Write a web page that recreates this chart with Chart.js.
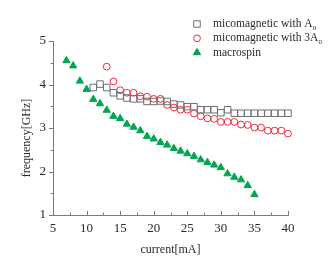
<!DOCTYPE html>
<html>
<head>
<meta charset="utf-8">
<script src="https://cdn.jsdelivr.net/npm/chart.js@4/dist/chart.umd.min.js"></script>
<style>
  html, body { margin: 0; padding: 0; background: #fff; }
  canvas { display: block; }
</style>
</head>
<body>
<canvas id="freqChart" width="332" height="278"></canvas>
<script>
// current [mA] and frequency [GHz]
const currentA0 = [11, 12, 13, 14, 15, 16, 17, 18, 19, 20, 21, 22, 23, 24, 25, 26, 27, 28, 29, 30, 31, 32, 33, 34, 35, 36, 37, 38, 39, 40];
const freqA0 = [3.93, 4.01, 3.93, 3.81, 3.74, 3.69, 3.67, 3.67, 3.61, 3.61, 3.62, 3.61, 3.55, 3.53, 3.49, 3.49, 3.42, 3.42, 3.42, 3.35, 3.42, 3.34, 3.34, 3.34, 3.34, 3.34, 3.34, 3.34, 3.34, 3.34];

const current3A0 = [13, 14, 15, 16, 17, 18, 19, 20, 21, 22, 23, 24, 25, 26, 27, 28, 29, 30, 31, 32, 33, 34, 35, 36, 37, 38, 39, 40];
const freq3A0 = [4.41, 4.07, 3.87, 3.81, 3.81, 3.73, 3.72, 3.67, 3.67, 3.53, 3.47, 3.42, 3.42, 3.33, 3.27, 3.22, 3.21, 3.14, 3.14, 3.14, 3.08, 3.07, 3.01, 3.01, 2.94, 2.94, 2.94, 2.87];

const currentMacro = [7, 8, 9, 10, 11, 12, 13, 14, 15, 16, 17, 18, 19, 20, 21, 22, 23, 24, 25, 26, 27, 28, 29, 30, 31, 32, 33, 34, 35];
const freqMacro = [4.55, 4.43, 4.08, 3.89, 3.66, 3.56, 3.41, 3.27, 3.22, 3.09, 3.02, 2.94, 2.81, 2.75, 2.67, 2.61, 2.53, 2.47, 2.41, 2.35, 2.27, 2.21, 2.15, 2.09, 1.95, 1.87, 1.81, 1.68, 1.47];

const xTicks = [5, 10, 15, 20, 25, 30, 35, 40];
const yTicks = [1, 2, 3, 4, 5];

const serif = '"Liberation Serif", "Times New Roman", serif';
const axisColor = '#7a7a7a';
const textColor = '#2a2a2a';

function toPoints(xs, ys) {
  return xs.map((x, i) => ({ x: x, y: ys[i] }));
}

// ticks (x inward, y outward), axis titles and the legend with subscripts
const decorPlugin = {
  id: 'decor',
  afterDraw(chart) {
    const { ctx, chartArea: area, scales: { x, y } } = chart;
    ctx.save();
    ctx.strokeStyle = axisColor;
    ctx.lineWidth = 1;
    ctx.beginPath();
    for (let v = x.min; v <= x.max; v += 2.5) {
      const px = Math.round(x.getPixelForValue(v)) + 0.5;
      const len = v % 5 === 0 ? 4 : 2.5;
      ctx.moveTo(px, area.bottom);
      ctx.lineTo(px, area.bottom - len);
    }
    for (let v = y.min; v <= y.max; v += 0.5) {
      const py = Math.round(y.getPixelForValue(v)) + 0.5;
      const len = v % 1 === 0 ? 4 : 2.5;
      ctx.moveTo(area.left, py);
      ctx.lineTo(area.left - len, py);
    }
    ctx.stroke();

    ctx.fillStyle = textColor;
    ctx.font = '12px ' + serif;
    ctx.textAlign = 'center';
    ctx.textBaseline = 'middle';
    ctx.fillText('current[mA]', (area.left + area.right) / 2, 250);
    ctx.save();
    ctx.translate(27, 138);
    ctx.rotate(-Math.PI / 2);
    ctx.fillText('frequency[GHz]', 0, 0);
    ctx.restore();

    // legend
    const items = [
      { ds: 0, text: 'micomagnetic with A', sub: '0' },
      { ds: 1, text: 'micomagnetic with 3A', sub: '0' },
      { ds: 2, text: 'macrospin', sub: '' }
    ];
    const lx = 197, tx = 213, ly0 = 24, step = 14.3;
    items.forEach((it, i) => {
      const ds = chart.data.datasets[it.ds];
      const ly = ly0 + i * step;
      ctx.strokeStyle = ds.pointBorderColor;
      ctx.fillStyle = ds.pointBackgroundColor;
      ctx.lineWidth = 1;
      Chart.helpers.drawPoint(ctx, { pointStyle: ds.pointStyle, radius: ds.pointRadius, borderWidth: 1 }, lx, ly);
      if (ds.pointStyle === 'triangle') ctx.fill();
      ctx.fillStyle = textColor;
      ctx.font = '11.5px ' + serif;
      ctx.textAlign = 'left';
      ctx.textBaseline = 'middle';
      ctx.fillText(it.text, tx, ly);
      if (it.sub) {
        const w = ctx.measureText(it.text).width;
        ctx.font = '7px ' + serif;
        ctx.fillText(it.sub, tx + w, ly + 4);
      }
    });
    ctx.restore();
  }
};

new Chart(document.getElementById('freqChart').getContext('2d'), {
  type: 'scatter',
  data: {
    datasets: [
      {
        label: 'micomagnetic with A0',
        data: toPoints(currentA0, freqA0),
        clip: false,
        pointStyle: 'rect',
        pointRadius: 4.6,
        pointBorderWidth: 1,
        pointBorderColor: '#6e6e6e',
        pointBackgroundColor: 'rgba(255,255,255,0)'
      },
      {
        label: 'micomagnetic with 3A0',
        data: toPoints(current3A0, freq3A0),
        clip: false,
        pointStyle: 'circle',
        pointRadius: 3.4,
        pointBorderWidth: 1,
        pointBorderColor: '#f0283a',
        pointBackgroundColor: 'rgba(255,255,255,0)'
      },
      {
        label: 'macrospin',
        data: toPoints(currentMacro, freqMacro),
        clip: false,
        pointStyle: 'triangle',
        pointRadius: 4.2,
        pointBorderWidth: 1,
        pointBorderColor: '#00a651',
        pointBackgroundColor: '#00a651'
      }
    ]
  },
  options: {
    responsive: false,
    animation: false,
    events: [],
    layout: { padding: { left: 0, right: 44, top: 41, bottom: 0 } },
    plugins: {
      legend: { display: false },
      tooltip: { enabled: false }
    },
    scales: {
      x: {
        type: 'linear',
        min: 5,
        max: 40,
        afterBuildTicks: s => { s.ticks = xTicks.map(v => ({ value: v })); },
        afterFit: s => { s.height = 63; },
        grid: { drawOnChartArea: false, drawTicks: false },
        border: { color: axisColor, width: 1 },
        ticks: { padding: 6, color: textColor, font: { family: serif, size: 13 }, maxRotation: 0 }
      },
      y: {
        type: 'linear',
        min: 1,
        max: 5,
        afterBuildTicks: s => { s.ticks = yTicks.map(v => ({ value: v })); },
        afterFit: s => { s.width = 53; },
        grid: { drawOnChartArea: false, drawTicks: false },
        border: { color: axisColor, width: 1 },
        ticks: { padding: 7, color: textColor, font: { family: serif, size: 13 } }
      }
    }
  },
  plugins: [decorPlugin]
});
</script>
</body>
</html>
